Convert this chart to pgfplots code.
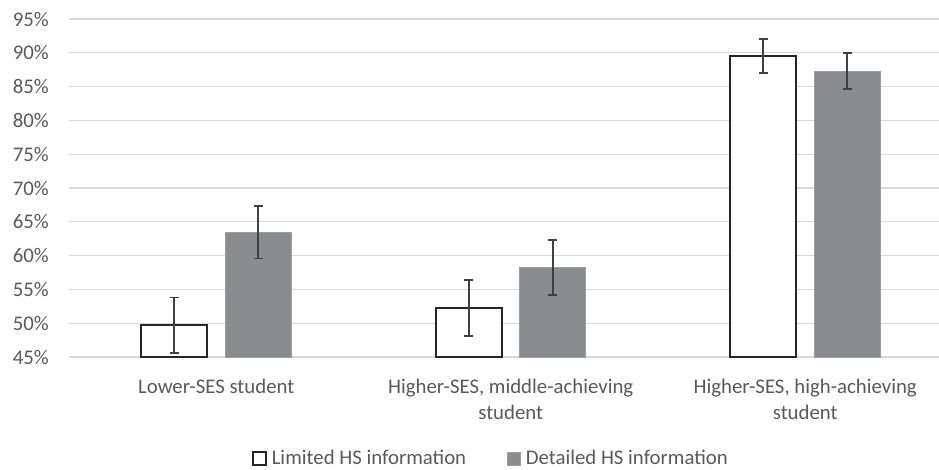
\documentclass[border=0pt]{standalone}
\usepackage{fontspec}
\setmainfont{Carlito}
\usepackage{pgfplots}
\pgfplotsset{compat=1.18}
\definecolor{txtgray}{RGB}{89,89,89}
\definecolor{gridgray}{RGB}{217,217,217}
\definecolor{bargray}{RGB}{139,140,144}
\definecolor{errgray}{RGB}{64,64,64}
\begin{document}
\begin{tikzpicture}
\begin{axis}[
  at={(0pt,0pt)}, anchor=south west,
  scale only axis, width=870pt, height=338pt,
  xmin=-0.5, xmax=2.4542, ymin=45, ymax=95,
  ytick={45,50,...,95},
  yticklabel={\pgfmathprintnumber{\tick}\%},
  xtick={0,1,2},
  xticklabels={Lower-SES student, {Higher-SES, middle-achieving\\student}, {Higher-SES, high-achieving\\student}},
  /pgf/number format/assume math mode=true,
  ticklabel style={font=\fontsize{20.8}{25.4}\selectfont, text=txtgray},
  yticklabel style={anchor=east, inner sep=0pt, xshift=-20pt},
  xticklabel style={anchor=north, align=center, inner sep=0pt, yshift=-22pt},
  major tick length=0pt,
  axis line style={draw=none},
  ymajorgrids, grid style={gridgray, line width=1.3pt},
  ybar, bar width=66pt,
  error bars/y dir=both, error bars/y explicit,
  error bars/error bar style={errgray, line width=1.7pt},
  error bars/error mark options={rotate=90, mark size=4.5pt, errgray, line width=1.7pt},
  legend columns=2,
  legend style={draw=none, fill=none, at={(0.4839,-0.300)}, anchor=center,
    inner sep=0pt, nodes={inner ysep=0pt, inner xsep=0pt},
    font=\fontsize{20.8}{25.4}\selectfont, text=txtgray,
    /tikz/every odd column/.append style={column sep=5pt},
    /tikz/every even column/.append style={column sep=41pt}},
  legend image code/.code={\draw[#1] (0pt,-6.5pt) rectangle (13pt,6.5pt);},
]
\addplot[bar shift=-42pt, draw=black!85, fill=white, line width=1.6pt]
  coordinates {(0,49.7) +- (0,4.1) (1,52.25) +- (0,4.1) (2,89.55) +- (0,2.5)};
\addlegendentry{Limited HS information}
\addplot[bar shift=42pt, draw=bargray!85!white, fill=bargray, line width=0.6pt]
  coordinates {(0,63.45) +- (0,3.9) (1,58.25) +- (0,4.05) (2,87.3) +- (0,2.7)};
\addlegendentry{Detailed HS information}
\end{axis}
\pgfresetboundingbox
\useasboundingbox (-69pt,-112pt) rectangle (870pt,357pt);
\end{tikzpicture}
\end{document}
